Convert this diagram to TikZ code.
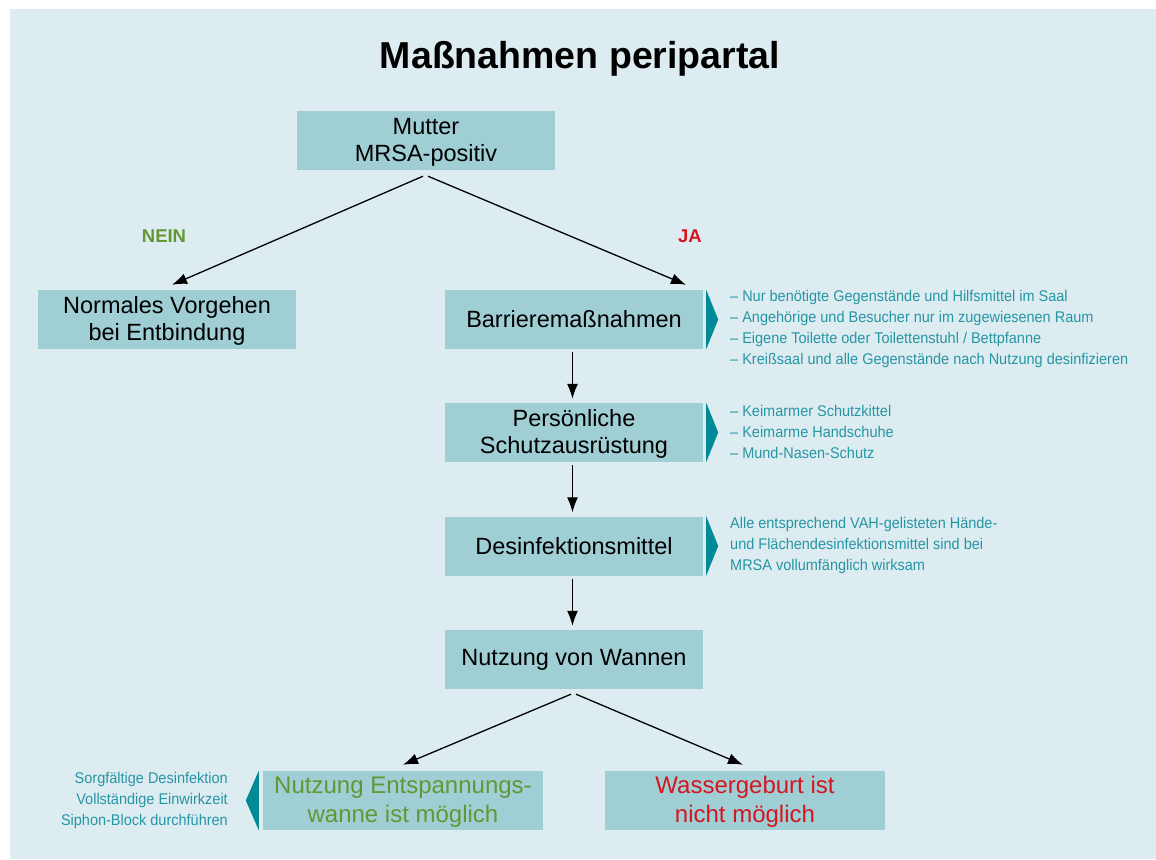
\documentclass[tikz,border=0pt]{standalone}
\usepackage{fontspec}
\setmainfont{Liberation Sans}
\newfontfamily\narrowfont[FakeStretch=0.935]{Liberation Sans}
\usetikzlibrary{arrows.meta}
\definecolor{bgblue}{RGB}{221,236,241}
\definecolor{boxblue}{RGB}{160,206,213}
\definecolor{markteal}{RGB}{0,138,150}
\definecolor{noteteal}{RGB}{38,150,165}
\definecolor{neingreen}{RGB}{97,152,52}
\definecolor{jared}{RGB}{212,22,32}
\tikzset{
    stepbox/.style={fill=boxblue, minimum width=258, minimum height=59,
                    inner sep=0, align=center, font=\fontsize{23.5}{27}\selectfont},
    endbox/.style={stepbox, minimum width=280, font=\fontsize{24}{29}\selectfont},
    note/.style={text=noteteal, inner sep=0, font=\narrowfont\fontsize{15.5}{21}\selectfont},
    answer/.style={font=\bfseries\fontsize{18.5}{20}\selectfont},
    flow/.style={-{Latex[length=15pt,width=11pt]}, line width=1.3pt},
    marker/.style={fill=markteal}
}
\begin{document}
\begin{tikzpicture}[x=1pt,y=-1pt]

  \useasboundingbox (0,0) rectangle (1156,859);
  \fill[bgblue] (10,9) rectangle (1156,859);

  \node[font=\bfseries\fontsize{37.5}{40}\selectfont, anchor=base] (title) at (580,68) {Maßnahmen peripartal};

  \node[stepbox] (mutter)   at (426,140.5) {\strut Mutter\\MRSA-positiv};
  \node[stepbox] (normal)   at (167,319.5) {\strut Normales Vorgehen\\bei Entbindung};
  \node[stepbox] (barriere) at (574,319.5) {Barrieremaßnahmen};
  \node[stepbox] (psa)      at (574,432.5) {\strut Persönliche\\Schutzausrüstung};
  \node[stepbox] (desinf)   at (574,546)   {Desinfektionsmittel};
  \node[stepbox] (wannen)   at (574,659.5) {Nutzung von Wannen};
  \node[endbox, text=neingreen] (entsp)  at (403,800.5) {\strut Nutzung Entspannungs-\\wanne ist möglich};
  \node[endbox, text=jared]     (wasser) at (745,800.5) {\strut Wassergeburt ist\\nicht möglich};

  \node[answer, text=neingreen] (nein) at (164,236) {NEIN};
  \node[answer, text=jared]     (ja)   at (690,236) {JA};

  % side markers
  \foreach \n in {barriere,psa,desinf}
    \fill[marker] ([xshift=3]\n.north east) -- ([xshift=15]\n.east) -- ([xshift=3]\n.south east) -- cycle;
  \fill[marker] ([xshift=-4]entsp.north west) -- ([xshift=-17]entsp.west) -- ([xshift=-4]entsp.south west) -- cycle;

  \node[note, anchor=west, align=left] (notebarr) at (730,329)
    {– Nur benötigte Gegenstände und Hilfsmittel im Saal\\
     – Angehörige und Besucher nur im zugewiesenen Raum\\
     – Eigene Toilette oder Toilettenstuhl / Bettpfanne\\
     – Kreißsaal und alle Gegenstände nach Nutzung desinfizieren};
  \node[note, anchor=west, align=left] (notepsa) at (730,431.5)
    {– Keimarmer Schutzkittel\\
     – Keimarme Handschuhe\\
     – Mund-Nasen-Schutz};
  \node[note, anchor=west, align=left] (notedesinf) at (730,545)
    {Alle entsprechend VAH-gelisteten Hände-\\
     und Flächendesinfektionsmittel sind bei\\
     MRSA vollumfänglich wirksam};
  \node[note, anchor=east, align=right] (noteentsp) at (228,800)
    {Sorgfältige Desinfektion\\
     Vollständige Einwirkzeit\\
     Siphon-Block durchführen};

  \draw[flow] ([shift={(-3,6)}]mutter.south) -- ([shift={(5,-5)}]normal.north);
  \draw[flow] ([shift={(2,6)}]mutter.south) -- ([shift={(112,-5)}]barriere.north);
  \draw[flow] ([shift={(-1.5,3)}]barriere.south) -- ([shift={(-1.5,-4)}]psa.north);
  \draw[flow] ([shift={(-1.5,3)}]psa.south) -- ([shift={(-1.5,-4)}]desinf.north);
  \draw[flow] ([shift={(-1.5,3)}]desinf.south) -- ([shift={(-1.5,-4)}]wannen.north);
  \draw[flow] ([shift={(-3,5)}]wannen.south) -- ([shift={(0,-6)}]entsp.north);
  \draw[flow] ([shift={(2,5)}]wannen.south) -- ([shift={(-2,-6)}]wasser.north);

\end{tikzpicture}
\end{document}
